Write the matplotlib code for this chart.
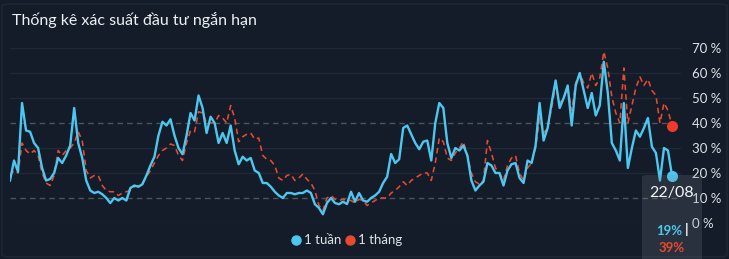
import matplotlib
matplotlib.use("Agg")
import matplotlib.pyplot as plt
from matplotlib.patches import FancyBboxPatch
from matplotlib.lines import Line2D

plt.rcParams['font.family'] = ['Lato', 'DejaVu Sans']

title = "Thống kê xác suất đầu tư ngắn hạn"
series_names = ["1 tuần", "1 tháng"]
last_date = "22/08"

week = [17, 25, 20.5, 48, 37, 36.5, 32, 30, 22, 17, 17.6, 20, 26, 24, 27, 31, 46, 32, 26, 17,
        13, 12, 12.5, 11.5, 10, 8, 10, 9, 10, 9, 14, 15, 14.5, 15.5, 19, 23, 26.5, 35, 40.5, 39,
        41.5, 35, 30, 27.5, 35, 44, 41, 51, 46, 36, 42.5, 40, 32, 36, 32, 39, 29, 23.5, 26.5, 25,
        26, 21, 20, 16, 16, 14.5, 12.5, 11, 10, 12, 12, 11.5, 12, 12, 13, 12, 7.5, 6, 3.5, 8,
        10, 8, 7.5, 8.5, 7.6, 12.5, 8.5, 12, 9, 8.5, 10, 11, 12.5, 16, 18.5, 27.6, 24, 25.5, 38, 39,
        35.5, 32, 29.5, 32.5, 33, 25, 40, 48, 46, 32, 26, 30, 29, 31, 27, 17, 13, 15, 16.5, 24,
        23, 20, 20, 15, 21, 23.5, 24, 18, 16, 25, 24, 31, 48, 33, 38,
        48, 57, 46, 50, 55, 39, 55, 60, 53, 46, 52, 43, 47, 64.5, 52, 32, 29, 25, 48, 22,
        30, 37, 34.5, 38, 42, 30.5, 28, 17, 30, 29, 19]

month = [19, 21, 20, 32, 29, 27.6, 29, 27, 20, 16, 15, 19, 29, 27, 29, 30, 32, 36.5, 33, 21,
         18, 19, 19, 15, 13, 12.5, 12.5, 11, 12, 12.5, 13, 14.5, 15, 16, 18.5, 21, 24, 27, 29, 30,
         31.6, 31, 27, 25, 32, 37, 36.5, 44.5, 44, 40, 40, 40, 43, 42, 40, 47, 42, 32.5, 34.5, 35.5,
         36, 33.5, 34, 27, 25.5, 25, 23, 18, 17, 19, 19.5, 17, 18, 19.6, 17.5, 16, 13, 7, 5, 10,
         11, 9.5, 9, 9.5, 9, 9, 8, 9.5, 9, 7, 8, 9, 10, 10, 10, 12, 13, 14.5, 16.5, 15,
         17, 18, 19, 20, 20, 17, 24, 34, 32.5, 26, 25, 28, 30, 32.5, 27, 20, 16.5, 15.5, 17, 33,
         28, 22, 20, 17, 23, 26, 27, 20, 17, 22, 24, 30, 42, 36, 38, 46,
         55, 48, 50, 54, 45, 56, 60, 56, 54, 60, 55, 58, 68.5, 62, 50.5, 44, 40, 62, 40,
         47, 54, 58.5, 55, 57.5, 53, 51, 40, 48, 45, 39]

y_ticks = [0, 10, 20, 30, 40, 50, 60, 70]
dashed_levels = [10, 40]

BG = "#131c28"
BLUE = "#4cc8f0"
RED = "#e8492f"
TXT = "#dfe3e8"

W, H = 729, 259
fig = plt.figure(figsize=(W / 100, H / 100), dpi=100, facecolor=BG)

# panel border
border = FancyBboxPatch((2 / W, 2 / H), (W - 4) / W, (H - 6) / H,
                        boxstyle="round,pad=0,rounding_size=0.01",
                        transform=fig.transFigure, facecolor="none",
                        edgecolor="#1d2734", linewidth=1.2, zorder=0)
fig.patches.append(border)

ax = fig.add_axes([10 / W, (H - 223) / H, (681 - 10) / W, (223 - 48) / H])
ax.set_facecolor("none")
ax.set_zorder(2)
n = len(week)
px_per_step = (672 - 10) / (n - 1)
ax.set_xlim(0, (681 - 10) / px_per_step)
ax.set_ylim(0, 70)
for s in ax.spines.values():
    s.set_visible(False)
ax.set_xticks([])

for lv in y_ticks:
    if lv in dashed_levels:
        ax.axhline(lv, color="#4d545d", lw=1.0, ls=(0, (4, 3)), zorder=1)
    else:
        ax.axhline(lv, color="#1e2836", lw=1.0, zorder=1)

ax.yaxis.tick_right()
ax.set_yticks(y_ticks)
ax.set_yticklabels([f"{v} %" for v in y_ticks], color=TXT, fontsize=9.5)
ax.tick_params(axis='y', length=0, pad=8)

xs = list(range(n))
ax.plot(xs, month, color=RED, lw=1.15, ls=(0, (3.5, 2.5)), zorder=3)
ax.plot(xs, week, color=BLUE, lw=1.7, zorder=4, solid_joinstyle='round')
ax.plot([xs[-1]], [month[-1]], 'o', color="#f0392b", ms=7, zorder=6, clip_on=False)
ax.plot([xs[-1]], [week[-1]], 'o', color=BLUE, ms=7, zorder=6, clip_on=False)

# title
fig.text(12 / W, 1 - 20 / H, title, color="#eef0f2", fontsize=11.5, va="center", ha="left")

# legend
ly = 1 - 240 / H
fig.add_artist(Line2D([296 / W], [ly], marker='o', ms=6.5, color=BLUE, ls='none',
                      transform=fig.transFigure))
fig.text(304 / W, ly, series_names[0], color=TXT, fontsize=9.5, va="center", ha="left")
fig.add_artist(Line2D([350 / W], [ly], marker='o', ms=6.5, color=RED, ls='none',
                      transform=fig.transFigure))
fig.text(358 / W, ly, series_names[1], color=TXT, fontsize=9.5, va="center", ha="left")

# tooltip box
tip = FancyBboxPatch((642 / W, -10 / H), 60 / W, (259 - 175 + 10) / H,
                     boxstyle="round,pad=0,rounding_size=0.008",
                     transform=fig.transFigure, facecolor="#7d8896", alpha=0.2,
                     edgecolor="none", zorder=5)
fig.add_artist(tip)
fig.text(672 / W, 1 - 193 / H, last_date, color="#f4f6f8", fontsize=11.5,
         ha="center", va="center", zorder=7)
fig.text(669 / W, 1 - 231 / H, f"{week[-1]:.0f}%", color=BLUE, fontsize=9.5,
         fontweight="bold", ha="center", va="center", zorder=7)
fig.text(687 / W, 1 - 230 / H, "|", color="#f4f6f8", fontsize=10,
         fontweight="bold", ha="center", va="center", zorder=7)
fig.text(672 / W, 1 - 248 / H, f"{month[-1]:.0f}%", color=RED, fontsize=9.5,
         fontweight="bold", ha="center", va="center", zorder=7)

fig.savefig("out.png", dpi=100, facecolor=BG)
